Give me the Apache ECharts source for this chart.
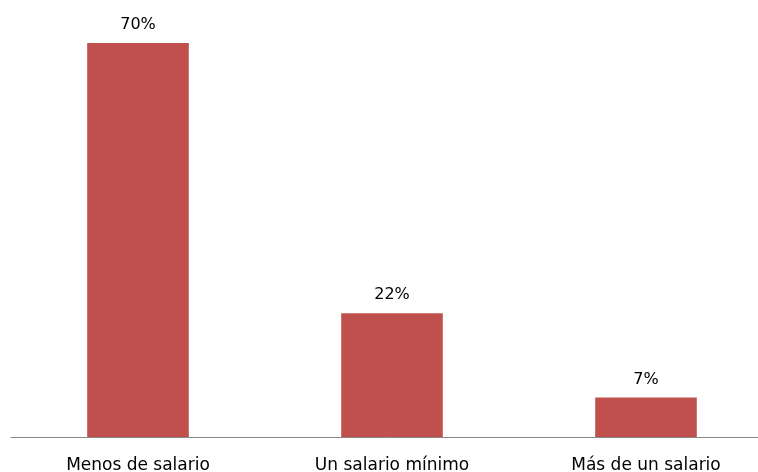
<!DOCTYPE html>
<html><head><meta charset="utf-8">
<script src="https://cdn.jsdelivr.net/npm/echarts@6/dist/echarts.min.js"></script>
<style>html,body{margin:0;padding:0;background:#fff}#c{width:758px;height:472px}</style>
</head><body><div id="c"></div>
<script>
const categories = ["Menos de salario", "Un salario mínimo", "Más de un salario"];
const values = [70, 22, 7];
const chart = echarts.init(document.getElementById('c'));
chart.setOption({
  animation: false,
  grid: {left: 11, right: -15, top: 43, bottom: 35, containLabel: false, outerBoundsMode: 'none'},
  xAxis: {
    type: 'category', data: categories,
    axisLine: {lineStyle: {color: '#888888', width: 1}},
    axisTick: {show: false},
    axisLabel: {color: '#000', fontFamily: 'DejaVu Sans', fontSize: 17, margin: 20, interval: 0}
  },
  yAxis: {type: 'value', min: 0, max: 70, show: false, splitLine: {show: false}},
  series: [{
    type: 'bar', data: values, barWidth: '40%',
    itemStyle: {color: '#C0504D'},
    label: {show: true, position: 'top', distance: 10, formatter: '{c}%', color: '#000', fontFamily: 'DejaVu Sans', fontSize: 16}
  }]
});
</script></body></html>
